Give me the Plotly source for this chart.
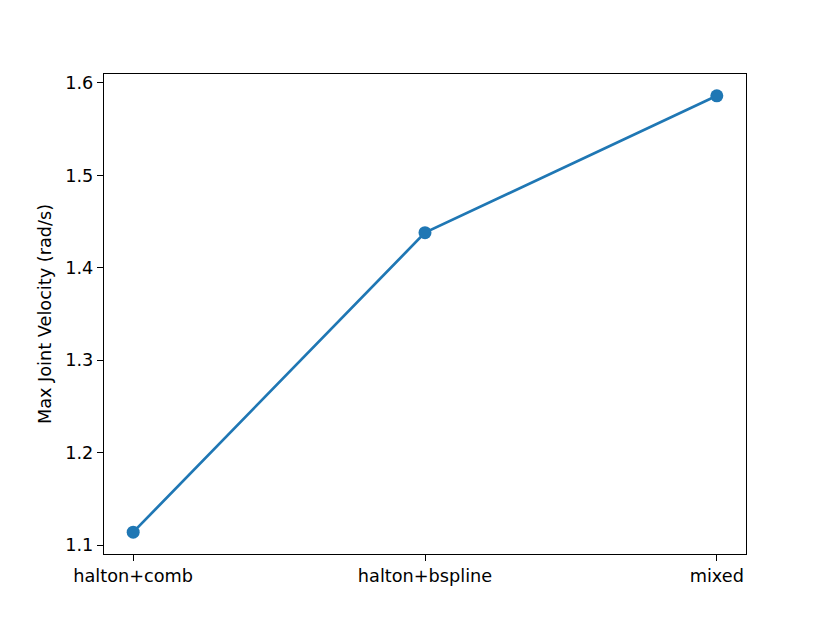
import plotly.graph_objects as go

# ----------------------------------
# DATA
# ----------------------------------

methods = ["halton+comb", "halton+bspline", "mixed"]
max_velocity = [1.114, 1.438, 1.586]
y_ticks = [1.1, 1.2, 1.3, 1.4, 1.5, 1.6]

# ----------------------------------
# FIGURE
# ----------------------------------

fig = go.Figure()

fig.add_trace(
    go.Scatter(
        x=methods,
        y=max_velocity,
        mode="lines+markers",
        line=dict(color="#1f77b4", width=2.7),
        marker=dict(color="#1f77b4", size=13),
        showlegend=False
    )
)

axis_style = dict(
    showline=True,
    linecolor="black",
    linewidth=1.3,
    mirror=True,
    showgrid=False,
    zeroline=False,
    ticks="outside",
    ticklen=6,
    tickwidth=1.3,
    tickcolor="black",
    tickfont=dict(size=17.7, color="black")
)

fig.update_xaxes(
    type="category",
    range=[-0.1, 2.1],
    **axis_style
)

fig.update_yaxes(
    range=[1.0904, 1.6096],
    tickvals=y_ticks,
    tickformat=".1f",
    title=dict(
        text="Max Joint Velocity (rad/s)",
        font=dict(size=17.7, color="black"),
        standoff=8
    ),
    **axis_style
)

# page body adds 8px, so margins are shifted to keep the axes in place
fig.update_layout(
    width=830,
    height=623,
    margin=dict(l=96, r=92, t=66, b=77),
    paper_bgcolor="white",
    plot_bgcolor="white",
    font=dict(family="DejaVu Sans", size=17.7, color="black")
)

fig.write_html("out.html")
